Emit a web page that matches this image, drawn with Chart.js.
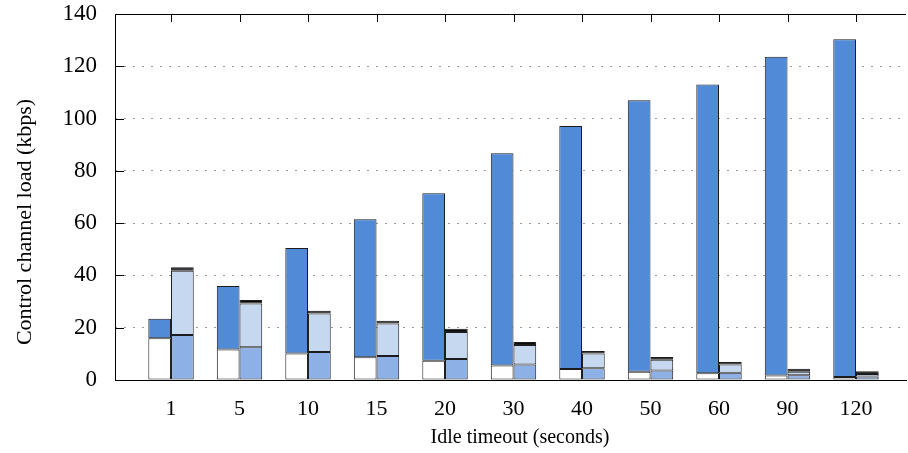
<!DOCTYPE html>
<html>
<head>
    <title>Control channel load vs idle timeout</title>
    <script src="https://cdn.jsdelivr.net/npm/chart.js"></script>
    <style>
        body {
            margin: 0;
            background-color: white;
        }
        #chartBox {
            width: 908px;
            height: 453px;
        }
    </style>
</head>
<body>
    <div id="chartBox">
        <canvas id="loadChart" width="908" height="453"></canvas>
    </div>

    <script>
        // idle timeout categories (seconds)
        const timeouts = ['1', '5', '10', '15', '20', '30', '40', '50', '60', '90', '120'];

        // left stack
        const leftBase = [16.0, 11.7, 10.1, 8.7, 7.4, 5.5, 4.2, 3.2, 2.6, 1.7, 1.1];
        const leftTop = [7.4, 24.3, 40.4, 52.8, 64.0, 81.2, 93.0, 103.8, 110.4, 121.9, 129.2];

        // right stack
        const rightBase = [17.2, 12.5, 10.7, 9.2, 8.0, 5.9, 4.5, 3.6, 2.8, 1.8, 1.3];
        const rightMid = [24.6, 16.8, 14.7, 12.4, 10.4, 7.5, 5.6, 4.1, 3.1, 1.4, 1.0];
        const rightTop = [1.3, 1.3, 1.1, 1.1, 1.2, 1.1, 1.0, 1.1, 1.0, 1.1, 1.0];

        const yTicks = [0, 20, 40, 60, 80, 100, 120, 140];

        const serif = '"Liberation Serif", "DejaVu Serif", serif';

        function points(values) {
            return values.map((v, i) => ({ x: i, y: v }));
        }

        function bars(label, values, color, stack) {
            return {
                label: label,
                data: points(values),
                backgroundColor: color,
                borderColor: '#1c1c1c',
                borderWidth: 1,
                borderSkipped: false,
                stack: stack,
                categoryPercentage: 0.663,
                barPercentage: 1.0
            };
        }

        // left axis, top border, inner ticks and axis titles (gnuplot look)
        const frame = {
            id: 'frame',
            afterDraw(chart) {
                const ctx = chart.ctx;
                const area = chart.chartArea;
                const x = chart.scales.x;
                const y = chart.scales.y;
                ctx.save();
                ctx.strokeStyle = '#000';
                ctx.lineWidth = 1;
                ctx.setLineDash([]);
                ctx.beginPath();
                ctx.moveTo(area.left + 0.5, area.top);
                ctx.lineTo(area.left + 0.5, area.bottom);
                ctx.moveTo(area.left, area.top + 0.5);
                ctx.lineTo(area.right, area.top + 0.5);
                timeouts.forEach((t, i) => {
                    const px = Math.round(x.getPixelForValue(i)) + 0.5;
                    ctx.moveTo(px, area.top);
                    ctx.lineTo(px, area.top + 8);
                });
                yTicks.slice(1, -1).forEach(v => {
                    const py = Math.round(y.getPixelForValue(v)) + 0.5;
                    ctx.moveTo(area.left, py);
                    ctx.lineTo(area.left + 9, py);
                });
                ctx.stroke();

                ctx.fillStyle = '#000';
                ctx.textAlign = 'center';
                ctx.textBaseline = 'middle';
                ctx.font = '20px ' + serif;
                ctx.fillText('Idle timeout (seconds)', 520, 438);
                ctx.font = '22px ' + serif;
                ctx.translate(25, 222);
                ctx.rotate(-Math.PI / 2);
                ctx.fillText('Control channel load (kbps)', 0, 0);
                ctx.restore();
            }
        };

        new Chart(document.getElementById('loadChart'), {
            type: 'bar',
            data: {
                datasets: [
                    bars('left base', leftBase, '#ffffff', 'left'),
                    bars('left top', leftTop, '#518ad6', 'left'),
                    bars('right base', rightBase, '#8db1e6', 'right'),
                    bars('right mid', rightMid, '#c6d8f0', 'right'),
                    bars('right top', rightTop, '#0a0a0a', 'right')
                ]
            },
            options: {
                responsive: false,
                animation: false,
                layout: {
                    padding: { top: 14, right: 2, left: 0, bottom: 0 }
                },
                plugins: {
                    legend: { display: false },
                    tooltip: { enabled: false }
                },
                scales: {
                    x: {
                        type: 'linear',
                        offset: false,
                        min: -0.818,
                        max: 10.73,
                        afterBuildTicks: scale => {
                            scale.ticks = timeouts.map((t, i) => ({ value: i }));
                        },
                        afterFit: scale => {
                            scale.height = 73;
                        },
                        ticks: {
                            callback: value => timeouts[value],
                            color: '#000',
                            font: { family: serif, size: 22 },
                            padding: 16,
                            maxRotation: 0
                        },
                        grid: { display: false, drawTicks: false },
                        border: { display: true, color: '#000', width: 1 }
                    },
                    y: {
                        stacked: true,
                        min: 0,
                        max: 140,
                        afterBuildTicks: scale => {
                            scale.ticks = yTicks.map(v => ({ value: v }));
                        },
                        afterFit: scale => {
                            scale.width = 115;
                            scale.paddingTop = 0;
                            scale.paddingBottom = 0;
                        },
                        ticks: {
                            color: '#000',
                            font: { family: serif, size: 23 },
                            padding: 18
                        },
                        grid: {
                            color: ctx => (ctx.tick.value === 0 || ctx.tick.value === 140) ? 'rgba(0,0,0,0)' : '#9a9a9a',
                            lineWidth: 1,
                            drawTicks: false
                        },
                        border: { display: false, dash: [2, 7] }
                    }
                }
            },
            plugins: [frame]
        });
    </script>
</body>
</html>
